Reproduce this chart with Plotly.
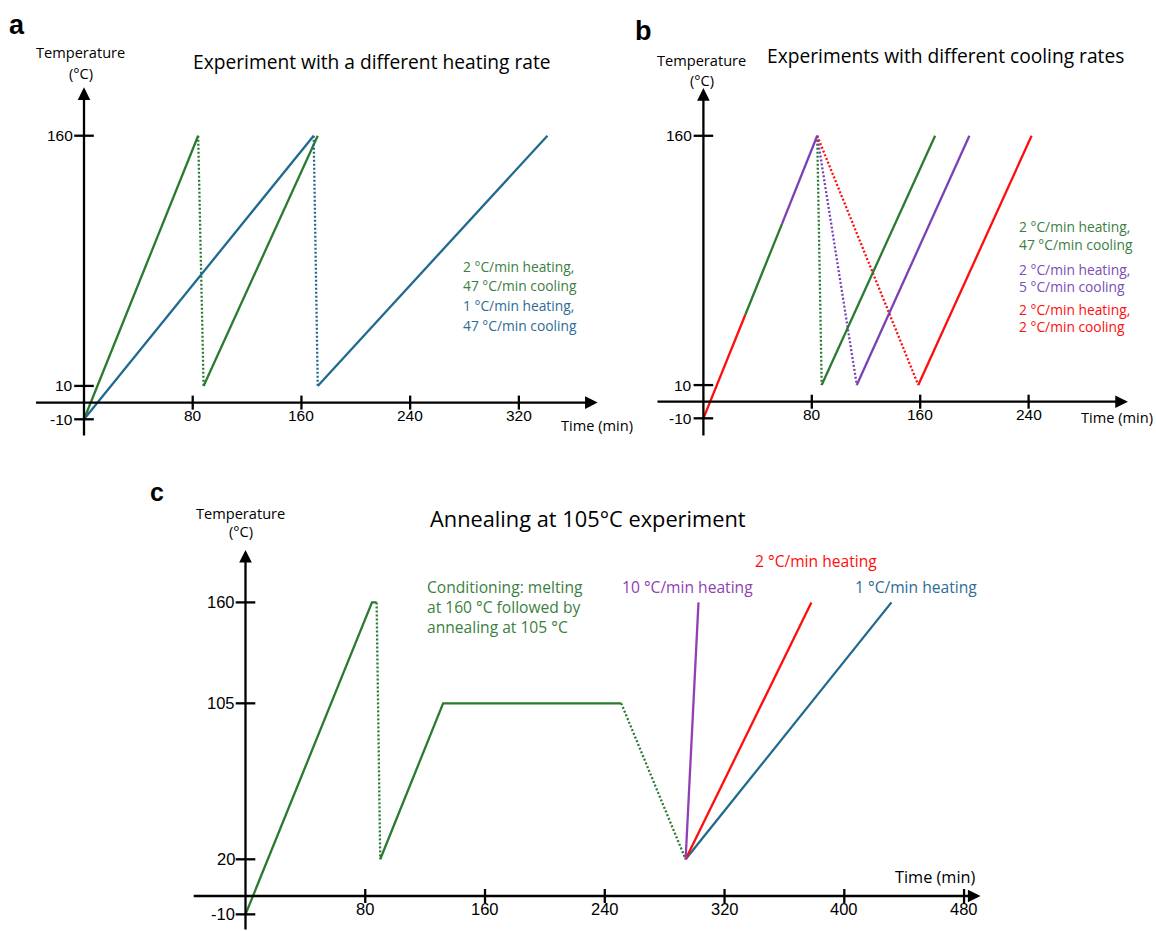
import plotly.graph_objects as go

W, H = 1156, 931

# ---------------- data ----------------
# Panel a
A_XTICKS = [80, 160, 240, 320]
A_YTICKS = [-10, 10, 160]
A_GREEN_SOLID = [([0, 84], [-10, 160]), ([88, 172], [10, 160])]
A_GREEN_DOT = [([84, 88], [160, 10])]
A_BLUE_SOLID = [([0, 169], [-10, 160]), ([172, 341], [10, 160])]
A_BLUE_DOT = [([169, 172], [160, 10])]
A_LEGEND = ["2 °C/min heating,", "47 °C/min cooling", "1 °C/min heating,", "47 °C/min cooling"]

# Panel b
B_XTICKS = [80, 160, 240]
B_YTICKS = [-10, 10, 160]
B_RED_SOLID = [([0, 31], [-10, 52.5]), ([158.6, 242.2], [10, 160])]
B_GREEN_SOLID = [([31, 58], [52.5, 107]), ([87.3, 171], [10, 160])]
B_PURPLE_SOLID = [([58, 84], [107, 160]), ([113.2, 196.3], [10, 160])]
B_GREEN_DOT = [([84, 87.3], [160, 10])]
B_PURPLE_DOT = [([84, 113.2], [160, 10])]
B_RED_DOT = [([84, 158.6], [160, 10])]
B_LEGEND = ["2 °C/min heating,", "47 °C/min cooling", "2 °C/min heating,", "5 °C/min cooling",
            "2 °C/min heating,", "2 °C/min cooling"]

# Panel c
C_XTICKS = [80, 160, 240, 320, 400, 480]
C_YTICKS = [-10, 20, 105, 160]
C_GREEN_SOLID = [([0, 84.5, 87.6], [-10, 160, 160]), ([90, 132, 251], [20, 105, 105])]
C_GREEN_DOT = [([87.6, 90], [160, 20]), ([251, 294], [105, 20])]
C_PURPLE = ([294, 302.6], [20, 160])
C_RED = ([294, 378], [20, 160])
C_BLUE = ([294, 431.5], [20, 160])

# ---------------- styles ----------------
GREEN = "#2a7a30"
BLUE = "#206a8e"
RED = "#ff0d0d"
PURPLE = "#7a41b6"
PURPLE_C = "#9140b3"
GREEN_T = "#3b7f3f"
BLUE_T = "#2d6c95"
PURPLE_T = "#7b4db5"
TXT_FONT = "Open Sans"
TICK_FONT = "Liberation Sans, Arial"
LW = 2.3
DOT = "2px,2px"

fig = go.Figure()


def px_x(x):
    return x / W


def px_y(y):
    return 1 - y / H


def seg(t, c, color, xa, ya, dash="solid"):
    fig.add_trace(go.Scatter(x=t, y=c, mode="lines", xaxis=xa, yaxis=ya,
                             line=dict(color=color, width=LW, dash=dash),
                             showlegend=False, hoverinfo="skip"))


annotations = []


def txt(x, y, text, size, color="black", anchor="left", bold=False, family=TXT_FONT):
    annotations.append(dict(x=px_x(x), y=px_y(y), xref="paper", yref="paper",
                            text=("<b>%s</b>" % text) if bold else text, showarrow=False,
                            xanchor=anchor, yanchor="middle",
                            font=dict(size=size, color=color, family=family)))


def axes(xa, ya, xr, yr, xticks, yticks, tick_size):
    xref = xa
    yref = ya
    # axis arrows
    annotations.append(dict(x=xr[1], y=0, ax=xr[0], ay=0, xref=xref, yref=yref,
                            axref=xref, ayref=yref, text="", showarrow=True,
                            arrowhead=2, arrowsize=1.1, arrowwidth=LW, arrowcolor="black"))
    annotations.append(dict(x=0, y=yr[1], ax=0, ay=yr[0], xref=xref, yref=yref,
                            axref=xref, ayref=yref, text="", showarrow=True,
                            arrowhead=2, arrowsize=1.1, arrowwidth=LW, arrowcolor="black"))
    # tick marks
    fig.add_trace(go.Scatter(x=[0] * len(yticks), y=yticks, mode="markers", xaxis=xa, yaxis=ya,
                             marker=dict(symbol="line-ew", size=14,
                                         line=dict(width=LW, color="black")),
                             showlegend=False, hoverinfo="skip"))
    fig.add_trace(go.Scatter(x=xticks, y=[0] * len(xticks), mode="markers", xaxis=xa, yaxis=ya,
                             marker=dict(symbol="line-ns", size=10,
                                         line=dict(width=LW, color="black")),
                             showlegend=False, hoverinfo="skip"))
    # tick labels
    for v in yticks:
        annotations.append(dict(x=0, y=v, xref=xref, yref=yref, text=str(v), showarrow=False,
                                xanchor="right", yanchor="middle", xshift=-9,
                                font=dict(size=tick_size, family=TICK_FONT, color="black")))
    for v in xticks:
        annotations.append(dict(x=v, y=0, xref=xref, yref=yref, text=str(v), showarrow=False,
                                xanchor="center", yanchor="middle", yshift=-13,
                                font=dict(size=tick_size, family=TICK_FONT, color="black")))


# ---------------- panel a ----------------
for t, c in A_GREEN_SOLID:
    seg(t, c, GREEN, "x", "y")
for t, c in A_GREEN_DOT:
    seg(t, c, GREEN, "x", "y", DOT)
for t, c in A_BLUE_SOLID:
    seg(t, c, BLUE, "x", "y")
for t, c in A_BLUE_DOT:
    seg(t, c, BLUE, "x", "y", DOT)
axes("x", "y", (-36.4, 378), (-20.6, 189), A_XTICKS, A_YTICKS, 15.5)

# ---------------- panel b ----------------
for t, c in B_GREEN_DOT:
    seg(t, c, GREEN, "x2", "y2", DOT)
for t, c in B_PURPLE_DOT:
    seg(t, c, PURPLE, "x2", "y2", DOT)
for t, c in B_RED_DOT:
    seg(t, c, RED, "x2", "y2", DOT)
for t, c in B_RED_SOLID:
    seg(t, c, RED, "x2", "y2")
for t, c in B_GREEN_SOLID:
    seg(t, c, GREEN, "x2", "y2")
for t, c in B_PURPLE_SOLID:
    seg(t, c, PURPLE, "x2", "y2")
axes("x2", "y2", (-35, 313.3), (-21.2, 188.7), B_XTICKS, B_YTICKS, 15.5)

# ---------------- panel c ----------------
for t, c in C_GREEN_SOLID:
    seg(t, c, GREEN, "x3", "y3")
for t, c in C_GREEN_DOT:
    seg(t, c, GREEN, "x3", "y3", DOT)
seg(C_BLUE[0], C_BLUE[1], BLUE, "x3", "y3")
seg(C_RED[0], C_RED[1], RED, "x3", "y3")
seg(C_PURPLE[0], C_PURPLE[1], PURPLE_C, "x3", "y3")
axes("x3", "y3", (-35.6, 491), (-19.07, 188.6), C_XTICKS, C_YTICKS, 16.5)

# ---------------- texts ----------------
# panel a
txt(16.7, 25, "a", 27, bold=True, anchor="center", family="Liberation Sans, Arial")
txt(80.7, 52.3, "Temperature", 14.6, anchor="center")
txt(80.7, 72.7, "(°C)", 14.6, anchor="center")
txt(371.6, 62, "Experiment with a different heating rate", 19.2, anchor="center")
for i, (s, col) in enumerate(zip(A_LEGEND, [GREEN_T, GREEN_T, BLUE_T, BLUE_T])):
    txt(460.7, [266.7, 285.7, 305.7, 325][i], s, 13.8, col)
txt(559, 425, "Time (min)", 14.6)

# panel b
txt(643, 30.7, "b", 27, bold=True, anchor="center", family="Liberation Sans, Arial")
txt(701.7, 60, "Temperature", 14.6, anchor="center")
txt(701.7, 80, "(°C)", 14.6, anchor="center")
txt(945, 55, "Experiments with different cooling rates", 19.2, anchor="center")
for i, (s, col) in enumerate(zip(B_LEGEND, [GREEN_T, GREEN_T, PURPLE_T, PURPLE_T, RED, RED])):
    txt(1017.3, [226.7, 244, 269.3, 286.7, 309, 326.7][i], s, 13.8, col)
txt(1079, 417, "Time (min)", 14.6)

# panel c
txt(157, 491.7, "c", 25, bold=True, anchor="center", family="Liberation Sans, Arial")
txt(240.7, 513.3, "Temperature", 14.6, anchor="center")
txt(240.7, 531, "(°C)", 14.6, anchor="center")
txt(587.7, 518, "Annealing at 105°C experiment", 21.8, anchor="center")
for y, s in zip([587.3, 607, 626.7],
                ["Conditioning: melting", "at 160 °C followed by", "annealing at 105 °C"]):
    txt(425.3, y, s, 15.6, GREEN_T)
txt(620.4, 587.3, "10 °C/min heating", 15.6, PURPLE_C)
txt(753, 560.7, "2 °C/min heating", 15.6, RED)
txt(853, 587.3, "1 °C/min heating", 15.6, BLUE_T)
txt(893.3, 877.3, "Time (min)", 16.3)


def axcfg(domain, rng):
    return dict(domain=domain, range=rng, visible=False, fixedrange=True)


fig.update_layout(
    width=W, height=H, autosize=False,
    margin=dict(l=0, r=0, t=0, b=0, pad=0),
    paper_bgcolor="white", plot_bgcolor="white",
    showlegend=False,
    xaxis=axcfg([30 / W, 605 / W], [(30 - 84) / 1.359, (605 - 84) / 1.359]),
    yaxis=axcfg([1 - 440 / H, 1 - 85 / H], [(402.6 - 440) / 1.668, (402.6 - 85) / 1.668]),
    xaxis2=axcfg([650 / W, 1135 / W], [(650 - 703.4) / 1.355, (1135 - 703.4) / 1.355]),
    yaxis2=axcfg([1 - 440 / H, 1 - 85 / H], [(401.7 - 440) / 1.662, (401.7 - 85) / 1.662]),
    xaxis3=axcfg([185 / W, 995 / W], [(185 - 245.5) / 1.497, (995 - 245.5) / 1.497]),
    yaxis3=axcfg([0, 1 - 545 / H], [(896 - 931) / 1.835, (896 - 545) / 1.835]),
    annotations=annotations,
)

fig.write_html("out.html", config={"displayModeBar": False},
               post_script="document.body.style.margin='0px';document.body.style.overflow='hidden';")
